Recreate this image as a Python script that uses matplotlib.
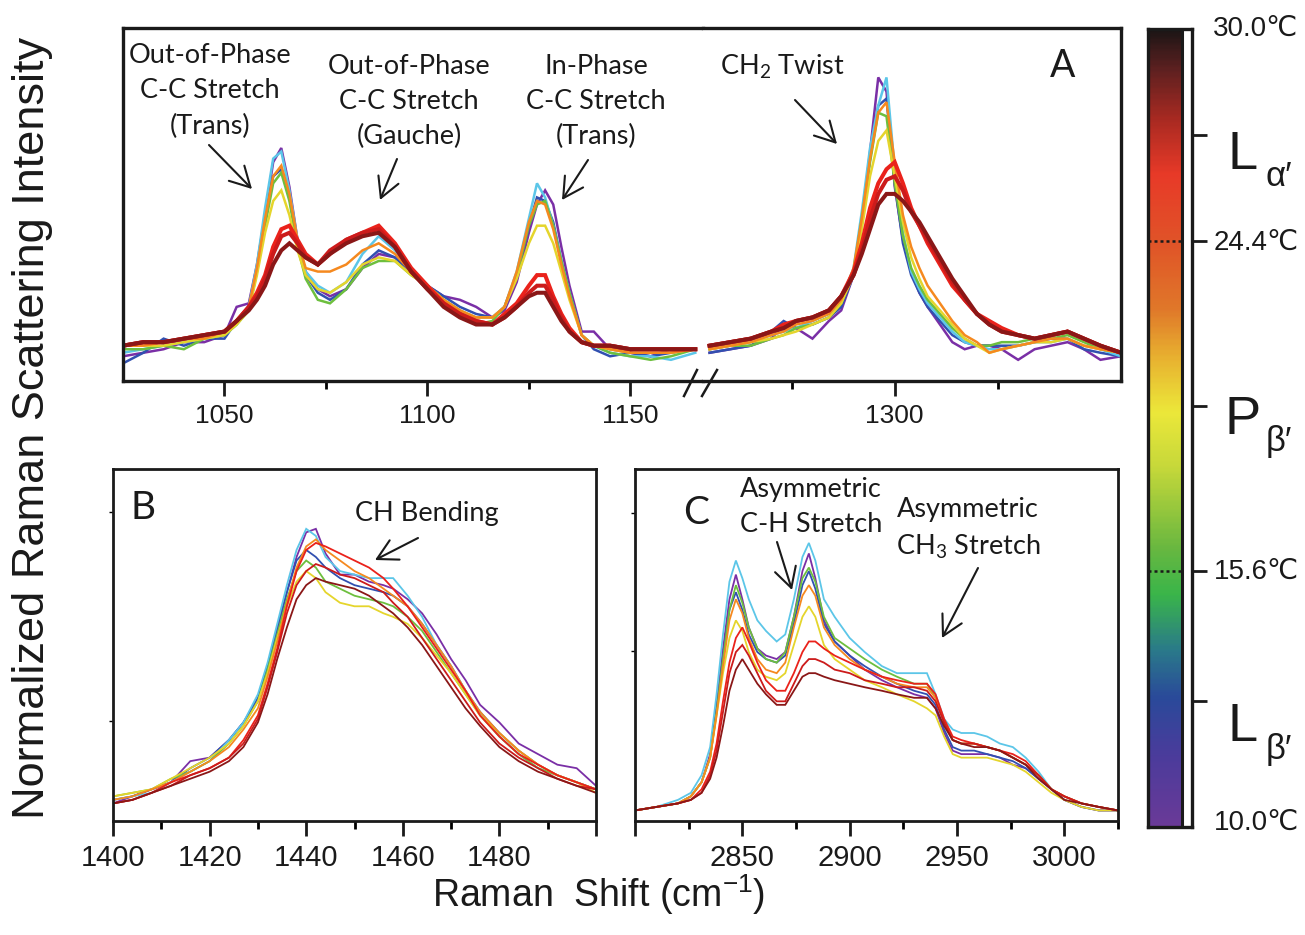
import matplotlib
matplotlib.use("Agg")
import matplotlib.pyplot as plt
import matplotlib.patches as mpatches
from matplotlib.colors import LinearSegmentedColormap
import numpy as np

plt.rcParams['font.family'] = ['Liberation Sans', 'DejaVu Sans']
plt.rcParams['mathtext.fontset'] = 'custom'
plt.rcParams['mathtext.rm'] = 'Lato'
plt.rcParams['mathtext.it'] = 'Lato:italic'
plt.rcParams['mathtext.bf'] = 'Lato:bold'

# ---------------------------------------------------------------- data
# sample temperatures (deg C) of the plotted spectra and their trace colours
TEMPS = [10.0, 11.5, 13.0, 15.0, 19.5, 23.0, 25.5, 27.5, 30.0]
TRACE_COLORS = ['#7a2fa6', '#3150b0', '#5cc6e8', '#6dbf3e', '#e5d52c',
                '#f5891f', '#ea221b', '#cc1b1b', '#8a1717']

# panel A, C-C stretch region (cm-1)
a1_x = [1025, 1030, 1035, 1040, 1045, 1050, 1053, 1056, 1058, 1060, 1062, 1064,
        1066, 1068, 1070, 1073, 1076, 1080, 1084, 1088, 1092, 1096, 1100, 1104,
        1108, 1112, 1116, 1119, 1122, 1125, 1127, 1129, 1131, 1133, 1135, 1138,
        1141, 1145, 1150, 1155, 1160, 1166]
a1_t100 = [7, 8, 9, 11, 11, 13, 21, 22, 33, 47, 62, 66, 55, 40, 31, 26, 24, 26, 32, 36, 35,
           31, 27, 24, 23, 21, 18, 20, 28, 42, 50, 54, 50, 38, 27, 14, 14, 9, 8, 7, 9, 9]
a1_t115 = [5, 8, 12, 10, 12, 12, 17, 21, 32, 46, 58, 60, 52, 39, 30, 25, 23, 26, 33, 37, 35,
           31, 27, 24, 21, 19, 18, 21, 30, 44, 52, 51, 45, 34, 25, 13, 9, 7, 8, 7, 8, 9]
a1_t130 = [8, 9, 10, 11, 12, 13, 16, 21, 33, 49, 63, 65, 54, 40, 31, 27, 25, 28, 36, 41, 37,
           31, 26, 23, 20, 18, 18, 21, 31, 46, 56, 52, 44, 34, 25, 13, 10, 8, 7, 7, 6, 8]
a1_t150 = [9, 9, 10, 9, 12, 13, 16, 20, 31, 44, 56, 59, 51, 38, 29, 23, 22, 26, 32, 34, 34,
           30, 27, 23, 20, 16, 17, 21, 30, 44, 50, 51, 44, 34, 25, 13, 10, 8, 7, 6, 7, 9]
a1_t195 = [10, 10, 10, 11, 12, 13, 16, 20, 30, 42, 51, 54, 47, 37, 30, 26, 25, 28, 33, 35, 34,
           30, 27, 23, 20, 18, 18, 21, 29, 39, 44, 44, 39, 31, 23, 13, 10, 9, 8, 8, 8, 9]
a1_t230 = [10, 10, 11, 12, 12, 14, 17, 21, 32, 46, 58, 61, 53, 40, 32, 31, 31, 33, 37, 39, 36,
           31, 27, 23, 20, 18, 18, 21, 31, 45, 51, 50, 43, 33, 24, 13, 10, 9, 8, 8, 8, 9]
a1_t255 = [10, 11, 11, 12, 13, 14, 17, 21, 25, 30, 38, 43, 44, 40, 36, 33, 36, 40, 42, 44, 39,
           32, 27, 22, 19, 17, 16, 19, 22, 27, 30, 30, 24, 19, 15, 11, 10, 10, 9, 9, 9, 9]
a1_t275 = [10, 11, 11, 12, 13, 14, 17, 21, 24, 29, 36, 41, 42, 39, 35, 33, 37, 40, 42, 43, 38,
           31, 26, 22, 19, 17, 16, 18, 21, 25, 27, 27, 23, 18, 14, 11, 10, 10, 9, 9, 9, 9]
a1_t300 = [10, 11, 11, 12, 13, 14, 17, 20, 23, 27, 33, 37, 39, 37, 35, 33, 36, 39, 41, 42, 38,
           31, 26, 21, 18, 16, 16, 18, 21, 24, 25, 25, 21, 17, 14, 11, 10, 10, 9, 9, 9, 9]

# panel A, CH2 twist region (cm-1)
a2_x = [1255, 1260, 1265, 1270, 1273, 1276, 1280, 1284, 1287, 1290, 1292, 1294, 1296,
        1298, 1300, 1302, 1304, 1306, 1308, 1311, 1314, 1317, 1320, 1323, 1326, 1330,
        1334, 1338, 1342, 1346, 1350, 1355]
a2_t100 = [8, 9, 10, 12, 16, 15, 12, 17, 20, 30, 45, 65, 86, 82, 55, 40, 31, 25, 21, 16, 11,
           9, 10, 10, 9, 6, 9, 10, 11, 9, 6, 7]
a2_t115 = [8, 9, 10, 14, 17, 15, 16, 18, 21, 30, 45, 63, 78, 80, 56, 39, 30, 25, 21, 17, 13,
           11, 10, 10, 10, 10, 11, 12, 12, 9, 8, 7]
a2_t130 = [9, 10, 11, 13, 14, 15, 17, 19, 23, 32, 48, 66, 78, 86, 60, 42, 31, 26, 22, 18, 14,
           11, 10, 9, 9, 10, 11, 11, 12, 10, 9, 7]
a2_t150 = [9, 10, 10, 12, 13, 15, 16, 18, 22, 31, 46, 62, 76, 75, 56, 41, 32, 27, 23, 19, 15,
           12, 10, 10, 11, 11, 12, 12, 13, 11, 9, 8]
a2_t195 = [9, 10, 11, 12, 13, 14, 16, 18, 22, 30, 43, 58, 68, 71, 58, 45, 35, 29, 24, 20, 16,
           12, 10, 8, 9, 10, 11, 11, 12, 10, 9, 8]
a2_t230 = [9, 10, 11, 13, 14, 16, 17, 19, 23, 32, 46, 63, 76, 79, 62, 47, 38, 32, 27, 22, 17,
           13, 11, 8, 9, 10, 11, 12, 12, 10, 9, 8]
a2_t255 = [10, 11, 12, 14, 16, 17, 18, 20, 24, 31, 39, 49, 56, 60, 62, 56, 49, 44, 39, 33, 27,
           23, 19, 17, 15, 13, 12, 13, 14, 12, 10, 8]
a2_t275 = [10, 11, 12, 14, 15, 17, 18, 20, 24, 30, 37, 46, 53, 57, 58, 54, 48, 44, 40, 34, 28,
           23, 19, 16, 14, 13, 12, 13, 14, 12, 10, 8]
a2_t300 = [10, 11, 12, 14, 15, 17, 18, 20, 24, 30, 36, 43, 50, 53, 53, 51, 48, 45, 41, 35, 29,
           24, 19, 16, 14, 13, 12, 13, 14, 12, 10, 8]

# panel B, CH bending region (cm-1)
b_x = [1400, 1404, 1408, 1412, 1416, 1420, 1424, 1427, 1430, 1432, 1434, 1436, 1438,
       1440, 1442, 1444, 1447, 1450, 1453, 1456, 1458, 1461, 1464, 1467, 1470, 1473,
       1476, 1480, 1484, 1488, 1492, 1496, 1500]
b_t100 = [5, 7, 9, 11, 17, 18, 23, 28, 34, 43, 54, 65, 75, 82, 83, 76, 70, 70, 68, 67, 66,
          63, 59, 53, 46, 40, 33, 28, 22, 19, 16, 15, 10]
b_t115 = [6, 7, 9, 11, 15, 18, 23, 28, 35, 44, 55, 65, 74, 77, 75, 72, 69, 67, 66, 65, 64,
          61, 56, 50, 44, 37, 31, 25, 20, 16, 13, 11, 9]
b_t130 = [6, 7, 8, 11, 14, 17, 23, 28, 36, 45, 56, 67, 77, 83, 81, 75, 71, 70, 69, 69, 69,
          64, 58, 50, 44, 37, 31, 24, 19, 15, 13, 11, 9]
b_t150 = [7, 8, 9, 12, 14, 17, 22, 27, 34, 43, 53, 63, 71, 74, 72, 68, 66, 64, 63, 62, 61,
          58, 54, 48, 42, 36, 30, 24, 19, 15, 13, 11, 9]
b_t195 = [7, 8, 9, 12, 15, 18, 22, 27, 34, 42, 52, 61, 68, 71, 69, 65, 62, 61, 61, 59, 58,
          56, 52, 47, 42, 36, 30, 25, 20, 16, 13, 11, 8]
b_t230 = [6, 7, 9, 11, 14, 17, 21, 26, 32, 41, 51, 62, 72, 78, 80, 77, 74, 71, 69, 66, 64,
          61, 56, 50, 44, 37, 31, 25, 20, 16, 13, 11, 9]
b_t255 = [5, 6, 8, 11, 13, 15, 18, 23, 30, 39, 49, 61, 71, 77, 79, 78, 76, 74, 72, 69, 66,
          61, 55, 49, 43, 37, 30, 24, 19, 16, 13, 11, 9]
b_t275 = [5, 6, 8, 10, 13, 15, 18, 22, 29, 38, 48, 59, 67, 71, 73, 72, 70, 69, 67, 65, 62,
          58, 52, 46, 40, 34, 28, 22, 18, 15, 12, 10, 9]
b_t300 = [5, 6, 8, 10, 12, 14, 17, 21, 28, 36, 46, 55, 63, 67, 69, 68, 67, 66, 64, 61, 59,
          55, 50, 44, 38, 32, 27, 21, 17, 14, 12, 10, 8]

# panel C, C-H stretching region (cm-1)
c_x = [2800, 2810, 2820, 2826, 2831, 2835, 2838, 2841, 2844, 2847, 2850, 2853, 2857,
       2861, 2866, 2870, 2874, 2878, 2881, 2884, 2888, 2893, 2900, 2907, 2915, 2922,
       2930, 2936, 2940, 2944, 2948, 2952, 2958, 2964, 2970, 2976, 2982, 2988, 2994,
       3000, 3008, 3016, 3025]
c_t100 = [3, 4, 5, 7, 11, 19, 33, 49, 63, 70, 63, 55, 49, 47, 46, 48, 58, 71, 76, 69, 57,
          51, 47, 43, 40, 38, 36, 35, 32, 25, 20, 19, 19, 19, 18, 16, 15, 12, 9, 6, 4, 3, 3]
c_t115 = [3, 4, 5, 7, 11, 18, 31, 46, 60, 65, 60, 53, 48, 46, 45, 47, 56, 67, 71, 66, 56,
          51, 47, 44, 41, 39, 37, 36, 33, 26, 21, 20, 20, 19, 18, 17, 15, 12, 9, 6, 4, 3, 3]
c_t130 = [3, 4, 6, 8, 13, 21, 36, 53, 68, 74, 69, 63, 57, 54, 51, 53, 63, 75, 79, 74, 63,
          58, 52, 48, 44, 42, 42, 42, 36, 29, 26, 25, 25, 24, 22, 21, 18, 14, 9, 7, 5, 4, 3]
c_t150 = [3, 4, 5, 7, 11, 18, 31, 46, 60, 67, 62, 55, 49, 46, 45, 48, 58, 69, 72, 68, 58,
          52, 49, 46, 43, 41, 39, 39, 35, 28, 23, 22, 22, 21, 20, 18, 16, 13, 9, 7, 5, 4, 3]
c_t195 = [3, 4, 5, 7, 11, 18, 30, 42, 52, 57, 54, 48, 43, 41, 40, 42, 50, 58, 61, 58, 50,
          46, 43, 40, 38, 36, 34, 32, 30, 24, 19, 18, 18, 18, 17, 16, 14, 11, 8, 6, 4, 3, 3]
c_t230 = [3, 4, 5, 7, 11, 18, 30, 44, 57, 63, 59, 52, 46, 43, 42, 45, 55, 64, 67, 64, 55,
          50, 46, 43, 41, 39, 38, 38, 35, 28, 23, 22, 22, 21, 20, 18, 16, 13, 9, 7, 5, 4, 3]
c_t255 = [3, 4, 5, 6, 9, 14, 22, 34, 45, 52, 55, 51, 45, 40, 37, 37, 42, 48, 51, 51, 49,
          47, 45, 43, 41, 40, 39, 39, 36, 29, 24, 23, 22, 21, 20, 19, 17, 13, 9, 7, 5, 4, 3]
c_t275 = [3, 4, 5, 6, 8, 13, 20, 31, 42, 48, 50, 47, 42, 37, 34, 34, 39, 44, 46, 46, 45,
          43, 42, 40, 39, 38, 38, 37, 34, 28, 23, 22, 22, 21, 20, 18, 16, 13, 9, 7, 5, 4, 3]
c_t300 = [3, 4, 5, 6, 8, 12, 18, 27, 37, 43, 46, 43, 39, 36, 33, 33, 37, 41, 42, 42, 41,
          40, 39, 38, 37, 36, 35, 35, 32, 27, 23, 22, 21, 21, 20, 18, 16, 12, 9, 6, 5, 4, 3]

# phase boundaries and labels of the temperature bar
BAR_LIMITS = ['10.0\u2103', '30.0\u2103']
BAR_TRANSITIONS = ['15.6\u2103', '24.4\u2103']

a1_series = [a1_t100, a1_t115, a1_t130, a1_t150, a1_t195, a1_t230, a1_t255, a1_t275, a1_t300]
a2_series = [a2_t100, a2_t115, a2_t130, a2_t150, a2_t195, a2_t230, a2_t255, a2_t275, a2_t300]
b_series = [b_t100, b_t115, b_t130, b_t150, b_t195, b_t230, b_t255, b_t275, b_t300]
c_series = [c_t100, c_t115, c_t130, c_t150, c_t195, c_t230, c_t255, c_t275, c_t300]

# ---------------------------------------------------------------- layout
W, H = 1305, 935
fig = plt.figure(figsize=(W / 100, H / 100), dpi=100)


def box(x0, y0, x1, y1):
    """pixel box (top-left origin) -> figure rect"""
    return [x0 / W, 1 - y1 / H, (x1 - x0) / W, (y1 - y0) / H]


def fp(x, y):
    return (x / W, 1 - y / H)


LABEL_FONT = ['Lato', 'DejaVu Sans']

axA1 = fig.add_axes(box(123, 28, 703, 381))
axA2 = fig.add_axes(box(703, 28, 1121, 381))
axB = fig.add_axes(box(113, 469, 596, 821))
axC = fig.add_axes(box(635, 469, 1118, 821))


def style_axis(ax, lw=2.0, size=17, pad=7):
    for s in ax.spines.values():
        s.set_linewidth(lw)
        s.set_color('#1a1a1a')
    ax.tick_params(axis='x', which='major', direction='out', length=10.5, width=2,
                   labelsize=size, pad=pad, colors='#1a1a1a')
    ax.tick_params(axis='x', which='minor', direction='out', length=6, width=2)
    ax.set_ylim(0, 100)


def draw(ax, x, series, lws):
    for ys, col, lw in zip(series, TRACE_COLORS, lws):
        ax.plot(x, ys, color=col, lw=lw, solid_joinstyle='miter')


gel_fluid_lw = [1.8] * 6 + [2.9] * 3
draw(axA1, a1_x, a1_series, gel_fluid_lw)
draw(axA2, a2_x, a2_series, gel_fluid_lw)
draw(axB, b_x, b_series, [1.3] * 9)
draw(axC, c_x, c_series, [1.3] * 9)

# panel A: broken axis
style_axis(axA1, lw=2.4, size=19, pad=6)
style_axis(axA2, lw=2.4, size=19, pad=6)
axA1.set_xlim(1025, 1167.9)
axA2.set_xlim(1253.4, 1355)
axA1.spines['right'].set_visible(False)
axA2.spines['left'].set_visible(False)
axA1.set_xticks([1050, 1100, 1150])
axA1.set_xticks([1075, 1125], minor=True)
axA2.set_xticks([1300])
axA2.set_xticks([1275, 1325], minor=True)
axA1.set_yticks([])
axA2.set_yticks([])
for (x0, y0, x1, y1) in [(684, 396, 697, 370), (702, 396, 717, 370)]:
    fig.add_artist(plt.Line2D([x0 / W, x1 / W], [1 - y0 / H, 1 - y1 / H],
                              color='#1a1a1a', lw=1.8, transform=fig.transFigure))

# panel B
style_axis(axB, lw=2.0, size=21, pad=6)
axB.set_xlim(1400, 1500)
axB.set_xticks([1400, 1420, 1440, 1460, 1480, 1500])
axB.set_xticklabels(['1400', '1420', '1440', '1460', '1480', ''])
axB.set_xticks([1410, 1430, 1450, 1470, 1490], minor=True)
axB.set_yticks([28.4, 87.8])
axB.tick_params(axis='y', direction='out', length=3, width=1, labelleft=False)

# panel C
style_axis(axC, lw=2.0, size=21, pad=6)
axC.set_xlim(2800, 3025)
axC.set_xticks([2800, 2850, 2900, 2950, 3000])
axC.set_xticklabels(['', '2850', '2900', '2950', '3000'])
axC.set_xticks([2825, 2875, 2925, 2975, 3025], minor=True)
axC.set_yticks([48.3, 87.5])
axC.tick_params(axis='y', direction='out', length=3, width=1, labelleft=False)

# ---------------------------------------------------------------- annotations


def note(text, x, y, size=19.5, ha='center'):
    fig.text(*fp(x, y), text, ha=ha, va='center', fontsize=size,
             family=LABEL_FONT, color='#1a1a1a', linespacing=1.5)


def arrow(x0, y0, x1, y1):
    fig.add_artist(mpatches.FancyArrowPatch(
        fp(x0, y0), fp(x1, y1), transform=fig.transFigure,
        arrowstyle='->,head_length=0.55,head_width=0.3', mutation_scale=26,
        lw=1.5, color='#1a1a1a', shrinkA=0, shrinkB=0))


note('Out-of-Phase\nC-C Stretch\n(Trans)', 210, 91)
arrow(209, 145, 252, 189)
note('Out-of-Phase\nC-C Stretch\n(Gauche)', 409, 101.5)
arrow(397, 159, 380, 200)
note('In-Phase\nC-C Stretch\n(Trans)', 596, 101.5)
arrow(588, 160, 562, 200)
note('CH$_2$ Twist', 782, 67)
arrow(795, 100, 837, 144)
note('A', 1063, 66, size=27)

note('B', 143, 508, size=28)
note('CH Bending', 427, 513)
arrow(418, 538, 375, 560)

note('C', 696, 513, size=28)
note('Asymmetric\nC-H Stretch', 811, 507)
arrow(777, 542, 792, 590)
note('Asymmetric\nCH$_3$ Stretch', 968, 529)
arrow(978, 568, 942, 638)

# axis titles
fig.text(*fp(33, 428), 'Normalized Raman Scattering Intensity', rotation=90,
         ha='center', va='center', fontsize=32.5, color='#1a1a1a')
fig.text(*fp(599, 895), 'Raman  Shift (cm$^{\\mathregular{-1}}$)', ha='center',
         va='center', fontsize=27, color='#1a1a1a')

# ---------------------------------------------------------------- temperature bar
bar_cmap = LinearSegmentedColormap.from_list('phase', [
    (0.00, '#6a3a98'), (0.09, '#4a3c9c'), (0.16, '#2a4a9a'), (0.22, '#2a7a8a'),
    (0.29, '#3ab54a'), (0.35, '#6ab840'), (0.45, '#c6d83a'), (0.52, '#ece83a'),
    (0.59, '#e8b030'), (0.65, '#e0782a'), (0.73, '#e05528'), (0.82, '#e83a28'),
    (0.89, '#a82a22'), (0.955, '#5a2020'), (1.00, '#1e1616')])

cax = fig.add_axes(box(1148, 29, 1192, 827))
cax.imshow(np.linspace(0, 1, 400).reshape(-1, 1), cmap=bar_cmap, origin='lower',
           extent=(0, 0.755, 0, 1), aspect='auto', interpolation='bilinear')
cax.set_xlim(0, 1)
cax.set_ylim(0, 1)
cax.axvline(0.77, color='#1a1a1a', lw=2.2)
for s in cax.spines.values():
    s.set_linewidth(2.4)
    s.set_color('#1a1a1a')
cax.set_xticks([])
tick_pos = [0.158, 0.3208, 0.5276, 0.734, 0.867]
cax.yaxis.tick_right()
cax.set_yticks(tick_pos)
cax.set_yticklabels([])
cax.tick_params(axis='y', direction='out', length=11, width=2, colors='#1a1a1a')
for f in (0.3208, 0.734):
    cax.plot([0, 0.77], [f, f], color='#1a1a1a', lw=1.8, ls=(0, (1.2, 1.2)))

for txt, y in [(BAR_LIMITS[1], 29), (BAR_TRANSITIONS[1], 243),
               (BAR_TRANSITIONS[0], 572), (BAR_LIMITS[0], 823)]:
    fig.text(*fp(1256, y), txt, ha='center', va='center', fontsize=20,
             family=['Liberation Sans', 'DejaVu Sans'], color='#1a1a1a')

for big, sub, y in [('L', '\u03b1\u2032', 155), ('P', '\u03b2\u2032', 420),
                    ('L', '\u03b2\u2032', 727)]:
    fig.text(*fp(1243, y), big, ha='center', va='center', fontsize=39, color='#1a1a1a')
    fig.text(*fp(1279, y + 22), sub, ha='center', va='center', fontsize=25,
             family=['Liberation Sans', 'DejaVu Sans'], color='#1a1a1a')

fig.savefig('out.png', dpi=100)
